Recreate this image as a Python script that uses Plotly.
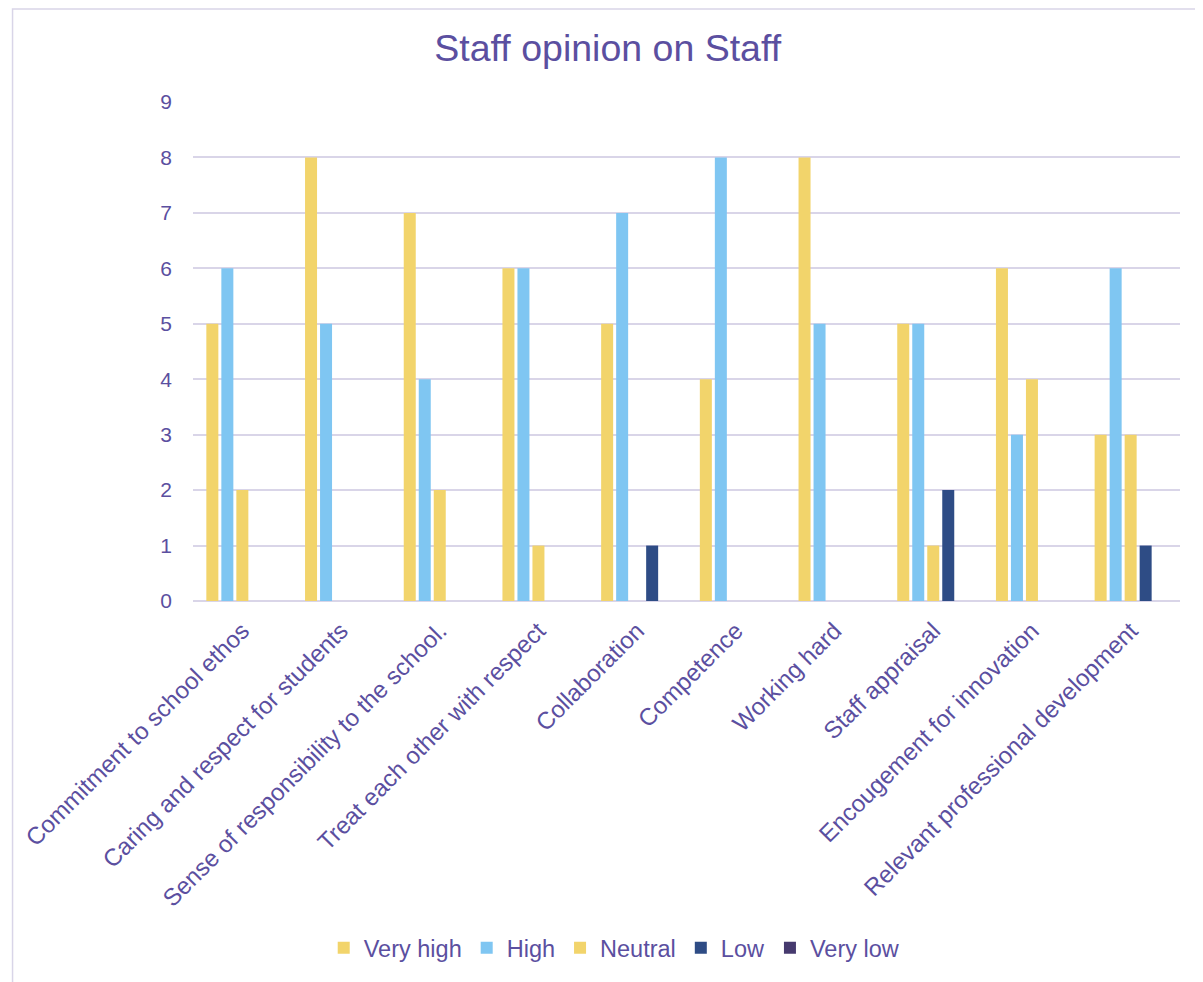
import plotly.graph_objects as go

categories = ["Commitment to school ethos", "Caring and respect for students",
              "Sense of responsibility to the school.", "Treat each other with respect",
              "Collaboration", "Competence", "Working hard", "Staff appraisal",
              "Encougement for innovation", "Relevant professional development"]
very_high = [5, 8, 7, 6, 5, 4, 8, 5, 6, 3]
high = [6, 5, 4, 6, 7, 8, 5, 5, 3, 6]
neutral = [2, 0, 2, 1, 0, 0, 0, 1, 4, 3]
low = [0, 0, 0, 0, 1, 0, 0, 2, 0, 1]
very_low = [0, 0, 0, 0, 0, 0, 0, 0, 0, 0]

series = [("Very high", very_high, "#F2D46B"), ("High", high, "#7FC6F2"),
          ("Neutral", neutral, "#F2D46B"), ("Low", low, "#2E4C85"),
          ("Very low", very_low, "#463A6E")]

txt = "#5B4FA0"
fig = go.Figure()
for name, vals, col in series:
    fig.add_trace(go.Bar(name=name, x=categories, y=vals, marker_color=col,
                         marker_line_width=0))

OFF = 8  # page body margin
W, H = 1195, 974
L, R = 190 - OFF, W - (1180 - OFF)
T, B = 102 - OFF, H - (601 - OFF)
pw, ph = W - L - R, H - T - B
def px(x): return (x - OFF - L) / pw
def py(y): return (H - B - (y - OFF)) / ph

fig.update_layout(
    width=W, height=H,
    margin=dict(l=L, r=R, t=T, b=B),
    paper_bgcolor="white", plot_bgcolor="white",
    font=dict(family="Liberation Sans, Arial, sans-serif", color=txt, size=21),
    title=dict(text="Staff opinion on Staff", x=px(606), xanchor="center",
               xref="paper",
               y=1 - (48 - OFF) / H, yanchor="middle", font=dict(size=37.5, color=txt)),
    barmode="group", bargap=0.24, bargroupgap=0.2,
    showlegend=True,
    legend=dict(orientation="h", x=px(613), xanchor="center", y=py(948), yanchor="middle",
                font=dict(size=23.5, color=txt), itemwidth=30, traceorder="normal"),
    xaxis=dict(tickangle=-45, showgrid=False, showline=False, ticks="",
               tickfont=dict(size=24, color=txt), ticklabelstandoff=10),
    yaxis=dict(range=[0, 9], dtick=1, gridcolor="#D9D5E8", gridwidth=2,
               zeroline=True, zerolinecolor="#D9D5E8", zerolinewidth=2,
               showline=False, ticks="", tickfont=dict(size=21, color=txt),
               ticklabelstandoff=20),
    shapes=[dict(type="rect", xref="paper", yref="paper",
                 x0=px(OFF + 1), x1=px(1230), y0=py(1010), y1=py(OFF + 1),
                 line=dict(color="#D9D5E8", width=1.5), layer="below")],
)
fig.write_html("out.html")
